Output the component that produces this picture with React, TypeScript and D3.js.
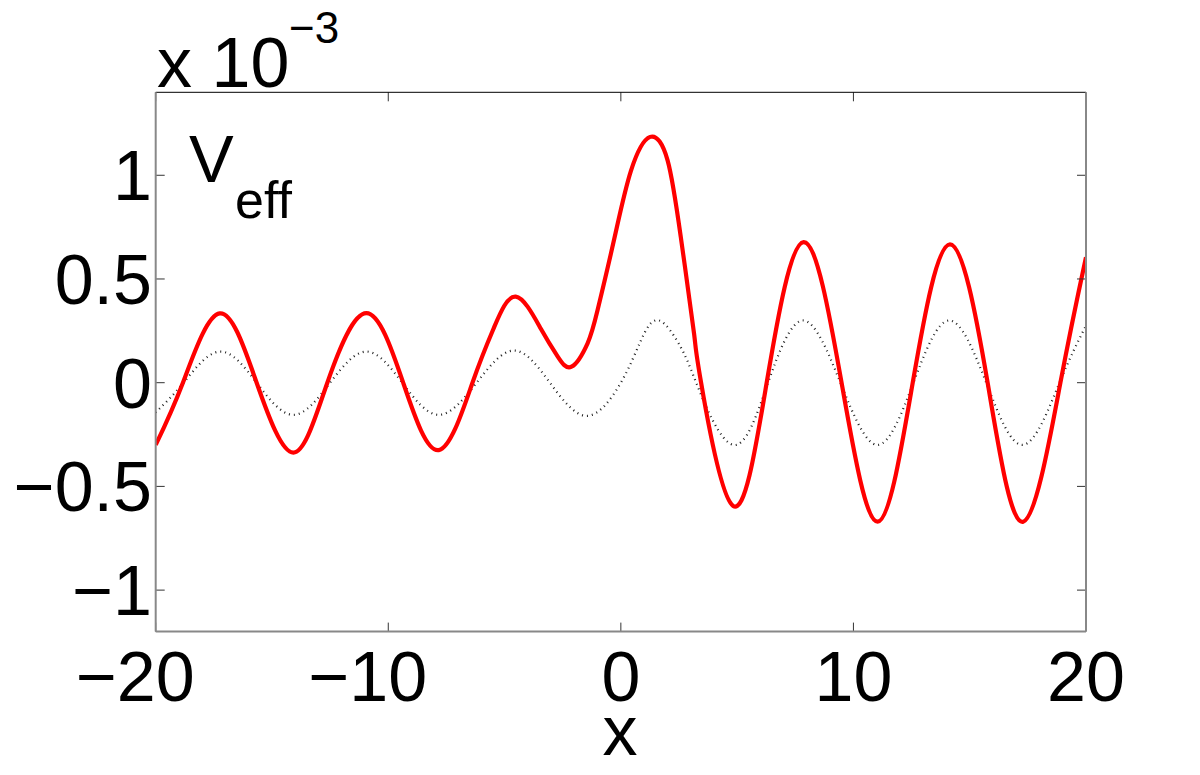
import React from "react";
import * as d3 from "d3";

// ---- data (y in units of 1e-3) ----
const redX = [-20, -18.83, -17.25, -15.66, -14.08, -12.62, -10.94, -9.36, -7.83, -6.38, -5.45, -4.52, -3.44, -2.72, -2.12, -1.43, -1.0, -0.29, 0.43, 1.26, 2.01, 2.58, 3.15, 3.45, 4.83, 6.27, 7.86, 9.49, 11.04, 12.55, 14.15, 15.77, 17.3, 18.9, 20];
const redY = [-0.3, 0, 0.334, 0, -0.337, 0, 0.335, 0, -0.325, 0, 0.267, 0.415, 0.26, 0.127, 0.077, 0.19, 0.35, 0.69, 1.02, 1.185, 1.072, 0.7, 0.235, 0, -0.594, 0, 0.678, 0, -0.67, 0, 0.667, 0, -0.67, 0, 0.605];

const dotX = [-20, -18.8, -17.25, -15.66, -14.08, -12.5, -10.94, -9.4, -7.83, -6.2, -4.6, -3.05, -1.46, 0, 0.86, 1.65, 2.58, 3.24, 4.83, 6.33, 7.84, 9.44, 11.04, 12.58, 14.12, 15.71, 17.3, 18.86, 20];
const dotY = [-0.143, 0, 0.15, 0, -0.155, 0, 0.15, 0, -0.155, 0, 0.155, 0, -0.16, 0, 0.203, 0.3, 0.17, 0, -0.3, 0, 0.3, 0, -0.3, 0, 0.3, 0, -0.3, 0, 0.275];

const xTicks = [-20, -10, 0, 10, 20];
const yTicks = [-1, -0.5, 0, 0.5, 1];
const yTickLabels = ["\u22121", "\u22120.5", "0", "0.5", "1"];

const W = 1200;
const H = 775;
const FONT = "'Liberation Sans', Arial, Helvetica, sans-serif";
const FS = 70;

export default function App() {
  const x = d3.scaleLinear().domain([-20, 20]).range([155.7, 1086]);
  const y = d3.scaleLinear().domain([-1.2, 1.4]).range([631.6, 92.3]);

  const line = d3
    .line<[number, number]>()
    .x((d) => x(d[0]))
    .y((d) => y(d[1]))
    .curve(d3.curveNatural);

  const redPts: [number, number][] = redX.map((v, i) => [v, redY[i]]);
  const dotPts: [number, number][] = dotX.map((v, i) => [v, dotY[i]]);

  const [x0, x1] = x.range();
  const [yb, yt] = y.range();
  const tickLen = 9;
  const digitW = 0.556 * FS;

  return (
    <svg
      width={W}
      height={H}
      style={{ position: "absolute", left: 0, top: 0, background: "#fff" }}
      fontFamily={FONT}
    >
      <rect x={0} y={0} width={W} height={H} fill="#fff" />
      <defs>
        <clipPath id="plotclip">
          <rect x={x0} y={yt} width={x1 - x0} height={yb - yt} />
        </clipPath>
      </defs>

      {/* curves */}
      <g clipPath="url(#plotclip)">
        <path
          d={line(dotPts) || ""}
          fill="none"
          stroke="#222"
          strokeWidth={2.2}
          strokeDasharray="1 4"
        />
        <path d={line(redPts) || ""} fill="none" stroke="#ff0000" strokeWidth={4.2} />
      </g>

      {/* ticks */}
      {xTicks.map((t) => (
        <g key={"xt" + t}>
          <line x1={x(t)} x2={x(t)} y1={yb} y2={yb - tickLen} stroke="#333" strokeWidth={1} />
          <line x1={x(t)} x2={x(t)} y1={yt} y2={yt + tickLen} stroke="#333" strokeWidth={1} />
        </g>
      ))}
      {yTicks.map((t) => (
        <g key={"yt" + t}>
          <line x1={x0} x2={x0 + tickLen} y1={y(t)} y2={y(t)} stroke="#333" strokeWidth={1} />
          <line x1={x1} x2={x1 - tickLen} y1={y(t)} y2={y(t)} stroke="#333" strokeWidth={1} />
        </g>
      ))}

      {/* box */}
      <line x1={x0} x2={x1} y1={yt} y2={yt} stroke="#000" strokeWidth={1} />
      <line x1={x0} x2={x0} y1={yt} y2={yb} stroke="#888" strokeWidth={2} />
      <line x1={x0} x2={x1} y1={yb} y2={yb} stroke="#888" strokeWidth={2} />
      <line x1={x1} x2={x1} y1={yt} y2={yb} stroke="#888" strokeWidth={2} />

      {/* x tick labels: digits centred on the tick, minus hanging left */}
      {xTicks.map((t) => {
        const s = String(Math.abs(t));
        const cx = x(t);
        return (
          <g key={"xl" + t}>
            <text x={cx} y={701} fontSize={FS} textAnchor="middle" fill="#000">
              {s}
            </text>
            {t < 0 && (
              <text
                x={cx - (s.length * digitW) / 2}
                y={701}
                fontSize={FS}
                textAnchor="end"
                fill="#000"
              >
                {"\u2212"}
              </text>
            )}
          </g>
        );
      })}

      {/* y tick labels */}
      {yTicks.map((t, i) => (
        <text key={"yl" + t} x={152} y={y(t) + 25} fontSize={FS} textAnchor="end" fill="#000">
          {yTickLabels[i]}
        </text>
      ))}

      {/* x axis label */}
      <text x={620} y={755} fontSize={FS} textAnchor="middle" fill="#000">
        x
      </text>

      {/* exponent label */}
      <text x={157} y={87} fontSize={FS} fill="#000">
        x 10
      </text>
      <text x={289} y={43} fontSize={44} fill="#000">
        {"\u22123"}
      </text>

      {/* V_eff annotation */}
      <text x={189} y={182} fontSize={67} fill="#000">
        V
      </text>
      <text x={235} y={218} fontSize={52} fill="#000">
        eff
      </text>
    </svg>
  );
}
